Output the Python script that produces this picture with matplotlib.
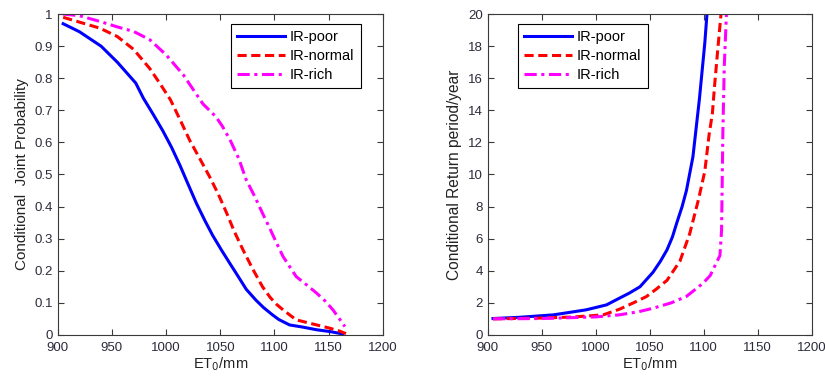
import matplotlib.pyplot as plt

plt.rcParams['font.family'] = ['Liberation Sans', 'DejaVu Sans']

# left panel: conditional joint probability
et_poor = [905, 920, 940, 955, 972, 979, 988, 997, 1005, 1013, 1020, 1028, 1036, 1043, 1051, 1059,
           1066, 1074, 1083, 1090, 1098, 1104, 1114, 1125, 1139, 1152, 1163]
p_poor = [0.97, 0.945, 0.90, 0.85, 0.785, 0.738, 0.688, 0.636, 0.585, 0.527, 0.472, 0.41, 0.355, 0.31,
          0.265, 0.222, 0.185, 0.142, 0.108, 0.085, 0.063, 0.048, 0.031, 0.025, 0.016, 0.01, 0.003]

et_normal = [905, 920, 939, 955, 970, 985, 995, 1004, 1013, 1022, 1031, 1040, 1048, 1056, 1063, 1071,
             1080, 1089, 1096, 1102, 1108, 1120, 1139, 1151, 1160, 1166]
p_normal = [0.99, 0.975, 0.956, 0.93, 0.89, 0.83, 0.78, 0.733, 0.67, 0.605, 0.55, 0.494, 0.44, 0.379,
            0.322, 0.265, 0.205, 0.15, 0.117, 0.095, 0.078, 0.047, 0.031, 0.021, 0.012, 0.004]

et_rich = [905, 920, 939, 955, 970, 985, 1000, 1016, 1026, 1034, 1046, 1052, 1059, 1067, 1074, 1082,
           1089, 1096, 1102, 1108, 1120, 1130, 1139, 1147, 1154, 1160, 1165]
p_rich = [1.0, 0.995, 0.977, 0.96, 0.946, 0.92, 0.873, 0.81, 0.76, 0.72, 0.68, 0.65, 0.608, 0.55,
          0.483, 0.43, 0.379, 0.33, 0.286, 0.244, 0.182, 0.155, 0.13, 0.105, 0.078, 0.05, 0.026]

# right panel: conditional return period
et_poor_t = [905, 930, 961, 991, 1010, 1022, 1031, 1041, 1047, 1053, 1060, 1066, 1071, 1075, 1080,
             1084, 1090, 1096, 1101, 1103]
t_poor = [1.02, 1.1, 1.25, 1.56, 1.87, 2.29, 2.6, 3.0, 3.45, 3.9, 4.6, 5.3, 6.1, 6.97, 8.0,
          9.0, 11.1, 14.7, 18.2, 20.0]

et_normal_t = [905, 950, 980, 1007, 1022, 1035, 1047, 1056, 1066, 1078, 1087, 1095, 1101, 1105,
               1108, 1110, 1113, 1116]
t_normal = [1.0, 1.05, 1.12, 1.25, 1.6, 2.0, 2.39, 2.85, 3.4, 4.6, 6.3, 8.4, 10.2, 12.5,
            13.8, 15.5, 17.8, 20.0]

et_rich_t = [905, 950, 1000, 1022, 1040, 1053, 1070, 1084, 1099, 1106, 1111, 1115, 1116.5, 1117,
             1117.7, 1119, 1121]
t_rich = [1.0, 1.02, 1.12, 1.25, 1.45, 1.66, 2.0, 2.4, 3.2, 3.7, 4.4, 4.95, 6.5, 9.0,
          12.6, 16.7, 20.0]

labels = ['IR-poor', 'IR-normal', 'IR-rich']
tick_color = '#2b2b3b'
dash = (0, (3, 1.5))
dashdot = (0, (4, 1.5, 1, 1.5))

fig = plt.figure(figsize=(8.25, 3.81), dpi=100)
ax1 = fig.add_axes([0.070, 0.121, 0.394, 0.842])
ax2 = fig.add_axes([0.591, 0.121, 0.393, 0.842])


def style(ax):
    ax.set_xlim(900, 1200)
    ax.set_xticks(range(900, 1201, 50))
    ax.tick_params(direction='in', top=True, right=True, labelsize=9.5,
                   colors='#3a3a3a', labelcolor=tick_color, length=4, width=0.8)
    ax.tick_params(axis='x', pad=5)
    for s in ax.spines.values():
        s.set_color('#3a3a3a')
        s.set_linewidth(0.8)
    ax.set_xlabel('ET$_0$/mm', fontsize=10.5, labelpad=1, color='#222222')


def legend(ax, loc, anchor):
    leg = ax.legend(loc=loc, bbox_to_anchor=anchor, fontsize=10.5, borderaxespad=0,
                    handlelength=3.3, handletextpad=0.3, borderpad=0.45,
                    labelspacing=0.32, fancybox=False, framealpha=1)
    leg.get_frame().set_edgecolor('black')
    leg.get_frame().set_linewidth(0.8)


ax1.plot(et_poor, p_poor, color='blue', lw=2.2, ls='-', label=labels[0])
ax1.plot(et_normal, p_normal, color='red', lw=2.2, ls=dash, label=labels[1])
ax1.plot(et_rich, p_rich, color='magenta', lw=2.2, ls=dashdot, label=labels[2])
style(ax1)
ax1.set_ylim(0, 1)
ax1.set_yticks([i / 10 for i in range(11)])
ax1.set_yticklabels(['0', '0.1', '0.2', '0.3', '0.4', '0.5', '0.6', '0.7', '0.8', '0.9', '1'])
ax1.set_ylabel('Conditional  Joint Probability', fontsize=11, labelpad=4, color='#222222')
legend(ax1, 'upper right', (0.932, 0.970))

ax2.plot(et_poor_t, t_poor, color='blue', lw=2.2, ls='-', label=labels[0])
ax2.plot(et_normal_t, t_normal, color='red', lw=2.2, ls=dash, label=labels[1])
ax2.plot(et_rich_t, t_rich, color='magenta', lw=2.2, ls=dashdot, label=labels[2])
style(ax2)
ax2.set_ylim(0, 20)
ax2.set_yticks(range(0, 21, 2))
ax2.set_ylabel('Conditional Return period/year', fontsize=11.2, labelpad=4, color='#222222')
legend(ax2, 'upper left', (0.093, 0.970))

fig.savefig('out.png', dpi=100)
